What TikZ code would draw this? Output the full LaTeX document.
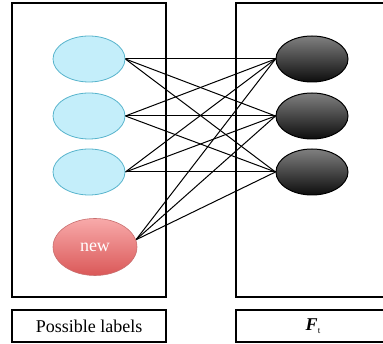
\documentclass[tikz,border=0pt]{standalone}
\usepackage{fontspec}
\setmainfont{Liberation Serif}
\usepackage{tikz}
\usetikzlibrary{shapes.geometric}
\usetikzlibrary{calc}
\pgfdeclarelayer{edgelayer}
\pgfdeclarelayer{nodelayer}
\pgfsetlayers{edgelayer,main,nodelayer}
\definecolor{LabelFill}{RGB}{196,238,250}
\definecolor{LabelEdge}{RGB}{88,180,204}
\definecolor{NewTop}{RGB}{248,170,170}
\definecolor{NewBottom}{RGB}{218,88,88}
\definecolor{NewEdge}{RGB}{200,110,110}
\tikzstyle{ln}=[ellipse,fill=LabelFill,draw=LabelEdge,line width=0.8pt,minimum width=72pt,minimum height=46pt,inner sep=0pt]
\tikzstyle{nn}=[ellipse,top color=NewTop,bottom color=NewBottom,draw=NewEdge,line width=0.6pt,minimum width=84pt,minimum height=57pt,inner sep=0pt,text=white,font=\fontsize{18}{21}\selectfont]
\tikzstyle{fn}=[ellipse,top color=black!50,bottom color=black!95,draw=black,line width=1pt,minimum width=72pt,minimum height=46pt,inner sep=0pt]
\tikzstyle{frame}=[draw=black,line width=2.2pt]
\tikzstyle{link}=[-,draw=black,line width=1pt]
\begin{document}
\begin{tikzpicture}[x=1pt,y=-1pt]
    \useasboundingbox (0,0) rectangle (383,344);
    % frames
    \draw [frame] (12,3) rectangle (166,297);
    \draw [frame] (236,3) rectangle (392,297);
    \node [frame, minimum width=154pt, minimum height=32pt, font=\fontsize{18}{21}\selectfont] (Caption) at (89,326) {Possible labels};
    \draw [frame] (236,310) rectangle (392,342);
    \node [font=\fontsize{18}{21}\selectfont] (Ft) at (313,326) {{\bfseries\itshape F}\raisebox{-0.4ex}{\fontsize{9}{10}\selectfont t}};

    \begin{pgfonlayer}{nodelayer}
    \node [ln] (L1) at (89,59) {};
    \node [ln] (L2) at (89,116) {};
    \node [ln] (L3) at (89,172) {};
    \node [nn] (New) at (95,247) {new};

    \node [fn] (F1) at (312,59) {};
    \node [fn] (F2) at (312,116) {};
    \node [fn] (F3) at (312,172) {};
    \end{pgfonlayer}

    \begin{pgfonlayer}{edgelayer}
    \draw [link] (L1.east) -- (F1.west);
    \draw [link] (L1.east) -- (F2.west);
    \draw [link] (L1.east) -- (F3.west);
    \draw [link] (L2.east) -- (F1.west);
    \draw [link] (L2.east) -- (F2.west);
    \draw [link] (L2.east) -- (F3.west);
    \draw [link] (L3.east) -- (F1.west);
    \draw [link] (L3.east) -- (F2.west);
    \draw [link] (L3.east) -- (F3.west);
    \draw [link] (New.10) -- (F1.west);
    \draw [link] (New.10) -- (F2.west);
    \draw [link] (New.10) -- (F3.west);
    \end{pgfonlayer}
\end{tikzpicture}
\end{document}
